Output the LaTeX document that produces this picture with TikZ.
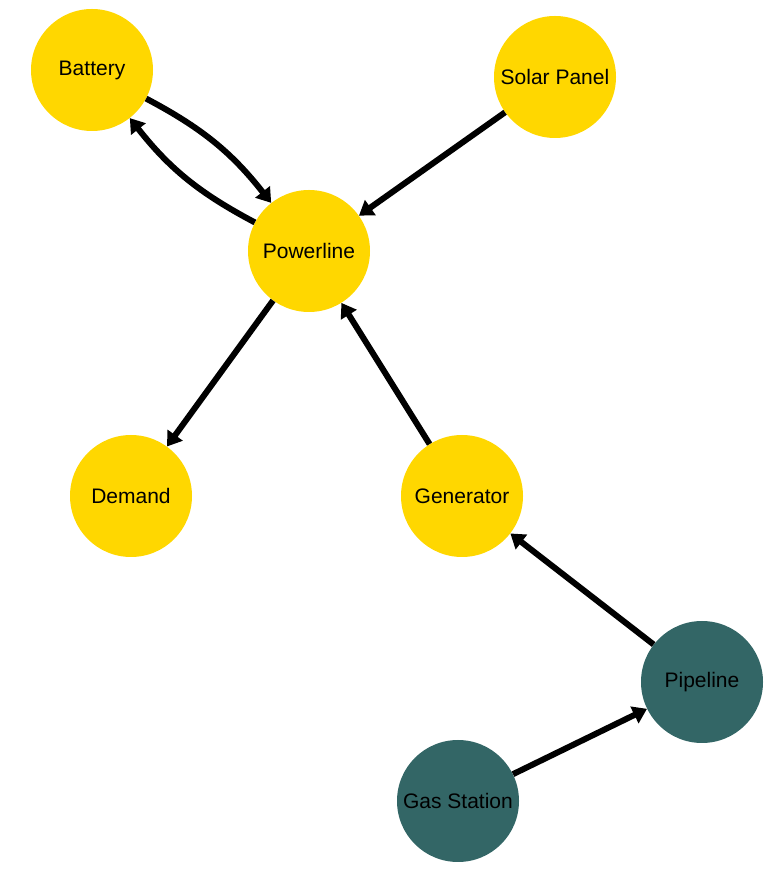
\documentclass[tikz,border=0pt]{standalone}
\usepackage{fontspec}
\setmainfont{Liberation Sans}
\usetikzlibrary{arrows.meta}
\definecolor{gold}{HTML}{FFD700}
\definecolor{darkteal}{HTML}{336666}
\begin{document}
\begin{tikzpicture}[x=1pt,y=1pt,
node_style/.style={circle,fill=gold,inner sep=0pt,minimum size=122pt,font=\fontsize{21}{25}\selectfont},
node_style_gas/.style={node_style,fill=darkteal},
edge_style/.style={draw=black,line width=6pt,-{Triangle[length=14pt,width=18pt]}}]
\useasboundingbox (0,0) rectangle (769,870);
\node[node_style] (battery) at (92,800) {Battery};
\node[node_style] (solar) at (555,793) {Solar Panel};
\node[node_style] (powerline) at (309,619) {Powerline};
\node[node_style] (demand) at (131,374) {Demand};
\node[node_style] (generator) at (462,374) {Generator};
\node[node_style_gas] (pipeline) at (702,188) {Pipeline};
\node[node_style_gas] (gas) at (458,69) {Gas Station};

\draw[edge_style]  (battery) edge[bend left=12] (powerline);
\draw[edge_style]  (powerline) edge[bend left=12] (battery);
\draw[edge_style]  (solar) edge (powerline);
\draw[edge_style]  (powerline) edge (demand);
\draw[edge_style]  (generator) edge (powerline);
\draw[edge_style]  (pipeline) edge (generator);
\draw[edge_style]  (gas) edge (pipeline);
\end{tikzpicture}
\end{document}
